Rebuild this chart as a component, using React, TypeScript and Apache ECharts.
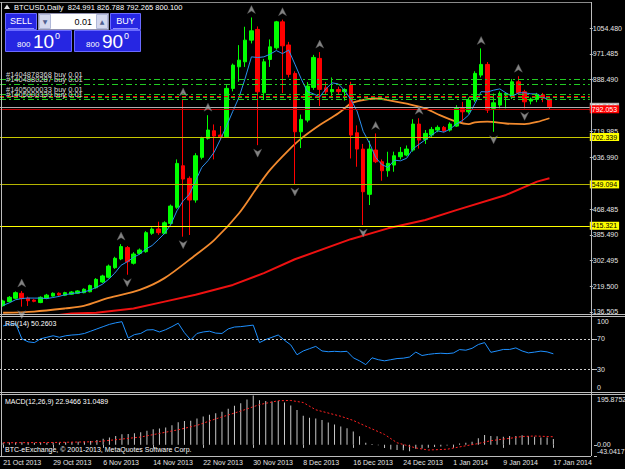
import { useEffect, useRef } from 'react';
import * as echarts from 'echarts';

const FONT = '"Liberation Sans", Arial, sans-serif';
const MONTHS = ['Jan', 'Feb', 'Mar', 'Apr', 'May', 'Jun', 'Jul', 'Aug', 'Sep', 'Oct', 'Nov', 'Dec'];
const FIRST_DAY = Date.UTC(2013, 9, 21);
const DAY_COUNT = 89;
const SLOT_COUNT = 95;

const dateTicks = ['21 Oct 2013', '29 Oct 2013', '6 Nov 2013', '14 Nov 2013', '22 Nov 2013', '30 Nov 2013',
  '8 Dec 2013', '16 Dec 2013', '24 Dec 2013', '1 Jan 2014', '9 Jan 2014', '17 Jan 2014'];

const opens = [157, 170, 181, 197, 181, 175, 167, 181, 188, 197,
  190.6, 194, 197, 199, 202, 215, 233.5, 248.7, 279.8, 308,
  344.7, 294.1, 326, 331.5, 391, 405, 391, 423, 475, 609.4,
  568.7, 498.6, 636.6, 698, 722.6, 708.7, 703.2, 859.6, 929.4, 945.6,
  1015.7, 1050.3, 845.4, 953.3, 990.8, 1074.8, 1000, 908, 719.3, 757,
  862.8, 956.6, 861.5, 848.6, 856, 849, 870.3, 716.1, 663.4, 517,
  660.2, 622.4, 593.3, 611.7, 638.5, 644, 660.2, 744.2, 694.8, 708.7,
  724.8, 733.5, 724.8, 737.7, 794.9, 784, 821.8, 902.6, 937.1, 795,
  805.6, 838, 832.4, 881, 848.6, 818.5, 824, 838.9, 824.991];
const highs = [176, 188, 203, 204.5, 186, 178, 187, 195, 200, 200,
  202, 204, 207, 213, 225, 246, 257, 290, 315, 356,
  350, 330, 342, 398, 410, 428.4, 430, 484, 630, 822,
  575, 650, 703, 773, 743, 738, 870, 940, 999.5, 1059,
  1089, 1060, 955, 1018, 1078, 1082, 1010, 915, 775, 880,
  968, 977, 880, 895, 865, 860, 881, 740, 680, 690,
  714, 630, 654.7, 655, 670, 675, 760, 763, 725, 735,
  740, 738, 750, 805, 816, 830, 915, 988.9, 945, 843,
  850, 845, 890, 899, 855, 830, 845, 845, 826.788];
const lows = [154, 167, 178, 153.7, 156, 168, 165, 178, 186, 189,
  188, 192, 195, 197, 200, 212, 230, 245, 276, 304,
  257, 290, 322, 328, 386, 386, 388, 418, 470, 380,
  385.5, 490, 630, 694, 630, 692, 700, 850, 881, 929,
  1005, 676, 822, 929, 985, 844.4, 895, 550.3, 666.6, 750,
  855, 802.4, 840, 830, 840, 820, 633, 606.2, 417.8, 482.4,
  618, 561, 573.9, 590, 630, 640, 655, 665, 680, 700,
  718, 718, 720, 735, 751.6, 778, 815, 895, 780, 719.3,
  795, 795, 825, 840, 795, 808, 815, 815, 792.265];
const closes = [172, 184, 199, 180, 173, 171, 184, 191, 197, 191.5,
  199, 201, 204.5, 210, 222, 242, 253, 285, 310, 348,
  299.2, 324, 337, 393, 404.6, 393, 425, 479, 617, 566.4,
  498.6, 641.8, 698, 725, 705.4, 703, 859.6, 934.9, 951, 1015.7,
  1045.8, 848.6, 945.6, 994, 1074.8, 997.3, 905, 719.3, 759.4, 867,
  959.8, 856.4, 848.6, 856, 849, 856, 708.7, 663.4, 525.4, 663.4,
  622.4, 593.3, 617.2, 641.8, 652.7, 663.4, 744.2, 692.5, 714.1, 727,
  733.5, 722.6, 744.2, 794.9, 784, 821.8, 908.1, 937.1, 789.5, 813,
  843.4, 843, 881, 845.4, 816.2, 825, 840, 828, 800.1];

// fast moving average (blue), read per bar
const maFast = [158, 166, 176, 180, 181.6, 181.4, 181.4, 179.8, 183.2, 186.9,
  192.5, 195.9, 198.6, 201.2, 207.3, 215.9, 226.3, 242.4, 262.4, 287.6,
  299, 313.2, 323.6, 340.2, 351.5, 370.3, 390.5, 418.9, 463.7, 496,
  517, 560.4, 604.2, 625.8, 653.6, 694.6, 738.2, 785.6, 830.8, 893,
  961.6, 959.4, 961.6, 970.2, 982, 972.2, 983.4, 938, 891, 849.4,
  842, 832.2, 858.2, 877.6, 874, 853.2, 823.8, 786.6, 720.4, 683.2,
  636.4, 613.2, 604, 627.4, 625.4, 633.6, 663.8, 679, 693.4, 708.2,
  722.2, 718, 728.2, 744.4, 755.8, 773.6, 810.6, 849.2, 848, 853.8,
  858, 845, 833.8, 845, 845.6, 842, 841.4, 830.8, 821.8];
// medium moving average (orange): [bar index, value]
const maMid = [[0, 134], [5, 138], [10, 148], [13, 156], [17, 182], [22, 208], [26, 246], [31, 321], [34, 369],
  [38, 456], [41, 542], [43, 596], [46, 660], [48, 697], [51, 741], [54, 779], [56, 811], [57, 818], [60, 827],
  [62, 822], [65, 810], [68, 795], [70, 776], [73, 752], [75, 744], [76, 750], [78, 752], [81, 746], [84, 744],
  [86, 751], [88, 763]];
// slow moving average (red): [bar index, value]
const maSlow = [[8, 124], [11, 132], [15, 134], [21, 148], [26, 170], [31, 192], [37, 224], [42, 262], [47, 307],
  [56, 372], [62, 407], [68, 434], [73, 466], [81, 515], [86, 558], [88, 569]];

const fractalUp = [3, 19, 29, 33, 40, 45, 51, 60, 67, 77, 83];
const fractalDown = [3, 20, 29, 41, 47, 58, 79, 84];

const rsi = [87, 89, 90, 70, 66, 65, 70, 72, 74, 72,
  74, 75, 75.5, 77, 80, 83, 86, 89, 91, 92.5,
  71, 75.5, 77, 81.6, 82, 79, 82, 86, 90.5, 78,
  68.5, 77, 79, 80, 77.5, 77, 83, 85.5, 86, 87,
  88, 65, 69, 72, 75, 68, 62, 49, 54, 57,
  60, 54, 53, 53.5, 53, 53.5, 45, 41, 36, 45,
  42.5, 41, 42.5, 44, 44.5, 46, 52.5, 48, 49.5, 50.5,
  51, 50.5, 51.3, 55.8, 55, 57.5, 62.5, 65, 52.2, 54,
  56, 56, 58, 54, 51.5, 52.5, 53.8, 52.8, 50.2603];
const rsiLevels = [70, 30];
const rsiTicks = [0, 30, 70, 100];
const rsiTickLabels = ['0', '30', '70', '100'];

const macdMain = [8, 9, 10, 10, 9, 8, 8, 8, 9, 9,
  10, 11, 12, 13, 15, 19, 23, 28, 34, 41,
  42, 45, 48, 54, 60, 63, 67, 75, 87, 92,
  93, 101, 109, 116, 122, 127, 139, 151, 160, 175,
  190, 172, 169, 167, 169, 163, 152, 134, 112, 104,
  101, 96, 86, 78, 71, 64, 51, 33, 8, 3,
  -2, -12, -18, -20, -21, -25, -15, -14, -11, -8,
  -6, -3, -1, 5, 8, 12, 25, 38, 34, 33,
  31, 34, 34, 37, 34, 31, 28.5, 28, 22.9466];
const macdSignal = [[0, 8], [8, 9], [15, 12], [22, 30], [25, 44], [28, 58], [31, 75], [34, 100], [38, 130],
  [41, 155], [44, 170], [46, 171], [48, 163], [50, 135], [54, 110], [56, 94], [58, 72], [61, 40], [63, 8],
  [66, -12], [68, -20], [71, -17], [73, -8], [76, 5], [78, 16], [81, 25], [83, 32], [85, 34], [88, 31.0489]];
const macdTicks = [-43.0417, 0, 195.8752];
const macdTickLabels = ['-43.0417', '0.00', '195.8752'];

const priceTicks = [136.505, 219.5, 302.495, 385.49, 468.485, 636.99, 719.985, 888.49, 971.485, 1054.48];
const levelValues = [702.339, 549.094, 415.321];
const orderValues = [889.6, 873.5, 839.6, 824.0];
const orderLabels = ['#1404878368 buy 0.01', '#1404880287 buy 0.01', '#1405000033 buy 0.01', '#1405000339 buy 0.01'];
const stopValues = [834.7];
const takeValues = [829.9];
const bidValue = 800.1;
const askValue = 792.053;

const categories = Array.from({ length: SLOT_COUNT }, (_, i) => {
  if (i >= DAY_COUNT) return `pad${i}`;
  const d = new Date(FIRST_DAY + i * 86400000);
  return `${d.getUTCDate()} ${MONTHS[d.getUTCMonth()]} ${d.getUTCFullYear()}`;
});

const isDateTick = (idx: number) => idx < DAY_COUNT && dateTicks.includes(categories[idx]);

const LABEL = '#e6e6e6';
const FRAME = '#bdbdbd';
const BLUE_FILL = '#2626e2';
const BLUE_STROKE = '#6a6aff';

const hl = (x1: number, x2: number, y: number, c: string) => ({
  type: 'line', silent: true, z: 100, shape: { x1, y1: y, x2, y2: y }, style: { stroke: c, lineWidth: 1 },
});
const vl = (x: number, y1: number, y2: number, c: string) => ({
  type: 'line', silent: true, z: 100, shape: { x1: x, y1, x2: x, y2 }, style: { stroke: c, lineWidth: 1 },
});
const txt = (text: string, x: number, y: number, extra: any = {}) => ({
  type: 'text', silent: true, z: 101, x, y,
  style: { text, fill: '#fff', fontSize: 7.5, fontFamily: FONT, verticalAlign: 'middle', ...extra },
});
const box = (x: number, y: number, w: number, h: number, fill: string, stroke: string) => ({
  type: 'rect', silent: true, z: 100, shape: { x, y, width: w, height: h }, style: { fill, stroke, lineWidth: 1 },
});

function buildGraphics(): any[] {
  return [
    // pane frames
    hl(0, 591, 2.5, '#8a8a8a'),
    vl(1.5, 2, 456, FRAME),
    vl(591.5, 2, 456, FRAME),
    hl(0, 625, 314.5, FRAME),
    hl(0, 625, 316.5, FRAME),
    hl(0, 625, 392.5, FRAME),
    hl(0, 625, 394.5, FRAME),
    hl(0, 591, 456.5, FRAME),
    // title
    { type: 'polygon', silent: true, z: 101, shape: { points: [[4, 9], [7, 4.5], [10, 9]] }, style: { fill: '#e0e0e0' } },
    txt(`BTCUSD,Daily  ${opens[88].toFixed(3)} ${highs[88].toFixed(3)} ${lows[88].toFixed(3)} ${closes[88].toFixed(3)}`, 14, 7),
    // one-click trading panel
    box(5.5, 13.5, 31, 16, BLUE_FILL, BLUE_STROKE),
    hl(8, 34, 28.5, '#8c8cff'),
    txt('SELL', 21, 21, { align: 'center', fontSize: 9 }),
    box(38.5, 13.5, 70, 16, '#ffffff', '#9090b0'),
    box(39.5, 14.5, 11, 14, '#d4d8ee', '#b0b8d8'),
    txt('▼', 45, 21.5, { align: 'center', fontSize: 6, fill: '#506090', fontFamily: 'DejaVu Sans' }),
    box(96.5, 14.5, 11, 14, '#d4d8ee', '#b0b8d8'),
    txt('▲', 102, 21, { align: 'center', fontSize: 6, fill: '#506090', fontFamily: 'DejaVu Sans' }),
    txt('0.01', 92, 21.5, { align: 'right', fontSize: 9, fill: '#000' }),
    box(110.5, 13.5, 30, 16, BLUE_FILL, BLUE_STROKE),
    hl(113, 138, 28.5, '#8c8cff'),
    txt('BUY', 125.5, 21, { align: 'center', fontSize: 9 }),
    box(5.5, 30.5, 66, 21, BLUE_FILL, BLUE_STROKE),
    box(74.5, 30.5, 66, 21, BLUE_FILL, BLUE_STROKE),
    txt('800', 17, 44, { fontSize: 8 }),
    txt('10', 33, 41.5, { fontSize: 19 }),
    txt('0', 55, 36, { fontSize: 9 }),
    txt('800', 86, 44, { fontSize: 8 }),
    txt('90', 102, 41.5, { fontSize: 19 }),
    txt('0', 124, 36, { fontSize: 9 }),
    // indicator captions
    txt(`RSI(14) ${rsi[88].toFixed(4)}`, 5, 323, { fontSize: 7 }),
    txt(`MACD(12,26,9) ${macdMain[88].toFixed(4)} ${macdSignal[macdSignal.length - 1][1].toFixed(4)}`, 5, 401, { fontSize: 7 }),
    txt('BTC-eExchange, © 2001-2013, MetaQuotes Software Corp.', 5, 449, { fontSize: 7 }),
  ];
}

function buildOption() {
  const levelLineColors = ['#c8c800', '#b4b400', '#ffff00'];
  const markData: any[] = [];
  orderValues.forEach((v, i) => markData.push({
    yAxis: v,
    lineStyle: { color: '#22cc22', type: [6, 3, 2, 3], width: 1 },
    label: { show: true, position: 'insideStartTop', formatter: orderLabels[i], color: '#d8d8d8', fontSize: 7.5, fontFamily: FONT, distance: [6, 1] },
  }));
  stopValues.forEach((v) => markData.push({ yAxis: v, lineStyle: { color: '#ff0000', type: [4, 3], width: 1 }, label: { show: false } }));
  takeValues.forEach((v) => markData.push({ yAxis: v, lineStyle: { color: '#22cc22', type: [4, 3], width: 1 }, label: { show: false } }));
  levelValues.forEach((v, i) => markData.push({
    yAxis: v,
    lineStyle: { color: levelLineColors[i], type: 'solid', width: 1 },
    label: { show: true, position: 'end', formatter: v.toFixed(3), backgroundColor: '#ffff00', color: '#000', fontSize: 7, fontFamily: FONT, padding: [1, 2, 0, 2], distance: 0 },
  }));
  markData.push({
    yAxis: bidValue,
    lineStyle: { color: '#b0b0b0', type: 'solid', width: 1 },
    label: { show: true, position: 'end', formatter: bidValue.toFixed(3), backgroundColor: '#b8b8b8', color: '#fff', fontSize: 7, fontFamily: FONT, padding: [1, 2, 0, 2], distance: 0 },
  });
  markData.push({
    yAxis: askValue,
    lineStyle: { color: '#c00000', type: 'solid', width: 1 },
    label: { show: true, position: 'end', formatter: askValue.toFixed(3), backgroundColor: '#ff0000', color: '#fff', fontSize: 7, fontFamily: FONT, padding: [1, 2, 0, 2], distance: 0 },
  });

  const candleData = opens.map((o, i) => [o, closes[i], lows[i], highs[i]]);
  const upArrow = 'path://M5 0L10 10L5 7L0 10Z';
  const downArrow = 'path://M0 0L5 3L10 0L5 10Z';
  const axisText = { color: LABEL, fontSize: 7, fontFamily: FONT };

  return {
    animation: false,
    backgroundColor: '#000000',
    grid: [
      { left: 0, top: 2, width: 594, height: 312 },
      { left: 0, top: 316, width: 594, height: 76 },
      { left: 0, top: 394, width: 594, height: 62 },
    ],
    xAxis: [
      { type: 'category', gridIndex: 0, data: categories, show: false },
      { type: 'category', gridIndex: 1, data: categories, show: false },
      {
        type: 'category', gridIndex: 2, data: categories,
        axisLine: { show: false },
        axisTick: { show: true, interval: (i: number) => isDateTick(i), alignWithLabel: true, length: 3, lineStyle: { color: FRAME } },
        axisLabel: { show: true, interval: (i: number) => isDateTick(i), align: 'left', margin: 3, ...axisText },
        splitLine: { show: false },
      },
    ],
    yAxis: [
      {
        type: 'value', gridIndex: 0, position: 'right', min: 130, max: 1139,
        axisLine: { show: false }, splitLine: { show: false },
        axisTick: { show: true, customValues: priceTicks, length: 3, lineStyle: { color: FRAME } },
        axisLabel: { customValues: priceTicks, formatter: (v: number) => v.toFixed(3), margin: 3, showMinLabel: true, showMaxLabel: true, ...axisText },
      },
      {
        type: 'value', gridIndex: 1, position: 'right', min: 0, max: 100,
        axisLine: { show: false }, splitLine: { show: false },
        axisTick: { show: true, customValues: rsiTicks, length: 3, lineStyle: { color: FRAME } },
        axisLabel: { show: false },
      },
      {
        type: 'value', gridIndex: 2, position: 'right', min: macdTicks[0], max: macdTicks[2],
        axisLine: { show: false }, splitLine: { show: false },
        axisTick: { show: true, customValues: macdTicks, length: 3, lineStyle: { color: FRAME } },
        axisLabel: { show: false },
      },
    ],
    series: [
      {
        type: 'candlestick', xAxisIndex: 0, yAxisIndex: 0, data: candleData, barWidth: 4,
        itemStyle: { color: '#00ff00', color0: '#ff0000', borderColor: '#00ff00', borderColor0: '#ff0000', borderWidth: 1 },
        markLine: { silent: true, symbol: ['none', 'none'], animation: false, data: markData },
        z: 3,
      },
      { type: 'line', xAxisIndex: 0, yAxisIndex: 0, data: maSlow, symbol: 'none', lineStyle: { color: '#ee1111', width: 2 }, z: 2 },
      { type: 'line', xAxisIndex: 0, yAxisIndex: 0, data: maMid, symbol: 'none', smooth: 0.3, lineStyle: { color: '#f28a2e', width: 1.8 }, z: 2 },
      { type: 'line', xAxisIndex: 0, yAxisIndex: 0, data: maFast, symbol: 'none', lineStyle: { color: '#2b8fef', width: 1 }, z: 4 },
      {
        type: 'scatter', xAxisIndex: 0, yAxisIndex: 0, data: fractalUp.map((i) => [i, highs[i]]),
        symbol: upArrow, symbolSize: [8, 8], symbolOffset: [0, -8],
        itemStyle: { color: '#a4a4a4', borderColor: '#5a5a5a', borderWidth: 0.5 }, z: 5,
      },
      {
        type: 'scatter', xAxisIndex: 0, yAxisIndex: 0, data: fractalDown.map((i) => [i, lows[i]]),
        symbol: downArrow, symbolSize: [8, 8], symbolOffset: [0, 8],
        itemStyle: { color: '#a4a4a4', borderColor: '#5a5a5a', borderWidth: 0.5 }, z: 5,
      },
      {
        type: 'line', xAxisIndex: 1, yAxisIndex: 1, data: rsi, symbol: 'none',
        lineStyle: { color: '#1e90ff', width: 1 },
        markLine: {
          silent: true, symbol: ['none', 'none'], label: { show: false },
          lineStyle: { color: '#d0d0d0', type: [2, 2], width: 1 },
          data: rsiLevels.map((v) => ({ yAxis: v })),
        },
      },
      {
        type: 'bar', xAxisIndex: 2, yAxisIndex: 2, data: macdMain, barWidth: 1,
        itemStyle: { color: '#c8c8c8' },
      },
      {
        type: 'line', xAxisIndex: 2, yAxisIndex: 2, data: macdSignal, symbol: 'none',
        lineStyle: { color: '#ff2020', width: 1, type: [2, 2] },
      },
    ],
    graphic: buildGraphics(),
  };
}

// scale labels of the two indicator panes, placed through the axes' own scales;
// the extreme labels sit just inside their pane, as in the terminal
function paneScaleLabels(chart: echarts.ECharts): any[] {
  const out: any[] = [];
  const place = (axisIndex: number, values: number[], labels: string[]) => {
    values.forEach((v, i) => {
      const py = chart.convertToPixel({ yAxisIndex: axisIndex }, v) as number;
      const nudge = i === values.length - 1 ? 5 : i === 0 ? -5 : 0;
      out.push(txt(labels[i], 597, py + nudge, { fontSize: 7, fill: LABEL }));
    });
  };
  place(1, rsiTicks, rsiTickLabels);
  place(2, macdTicks, macdTickLabels);
  return out;
}

export default function App() {
  const ref = useRef<HTMLDivElement>(null);
  useEffect(() => {
    if (!ref.current) return;
    const chart = echarts.init(ref.current, null, { renderer: 'svg' });
    chart.setOption(buildOption() as any);
    chart.setOption({ graphic: [...buildGraphics(), ...paneScaleLabels(chart)] } as any);
    return () => chart.dispose();
  }, []);
  return (
    <div
      ref={ref}
      style={{ position: 'absolute', left: 0, top: 0, width: 625, height: 469, background: '#000' }}
    />
  );
}
